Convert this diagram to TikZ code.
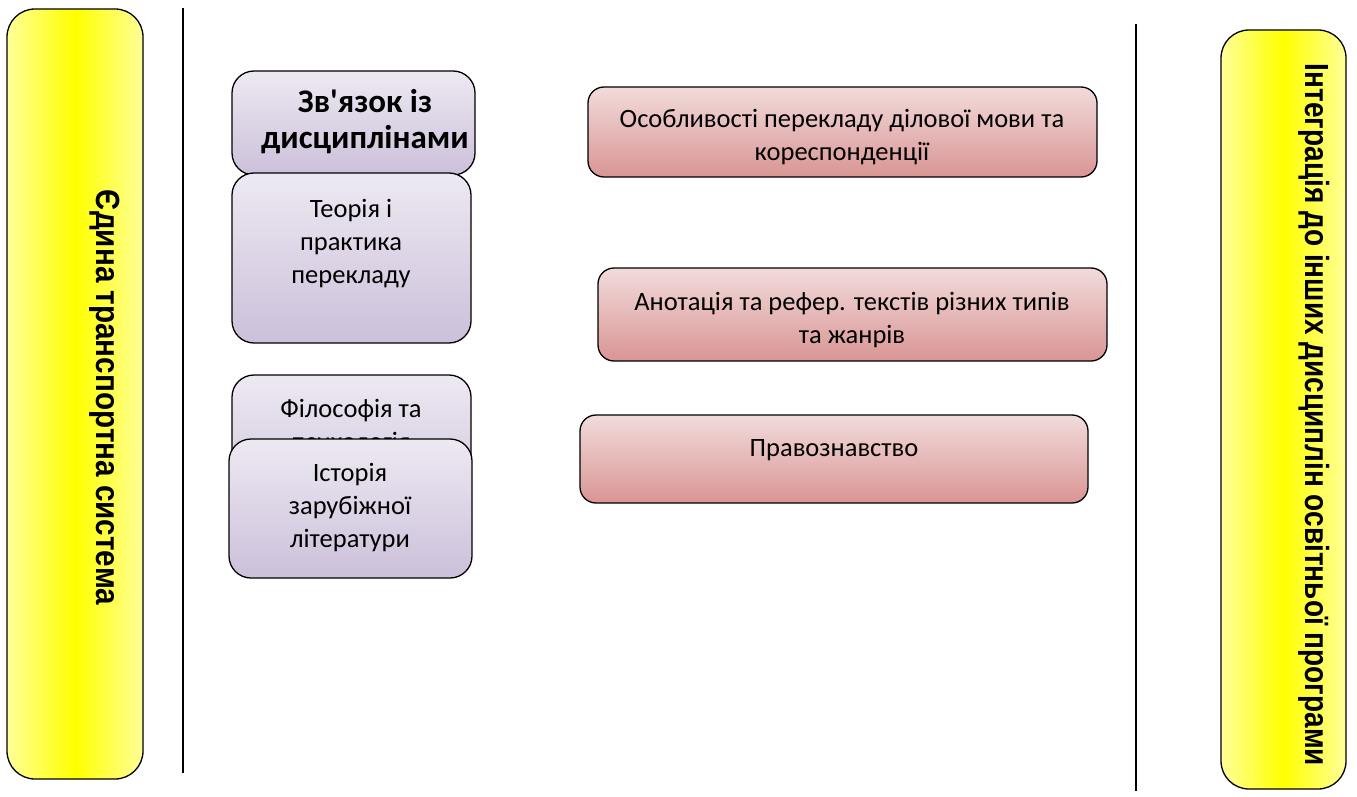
\documentclass[tikz,border=0pt]{standalone}
\usepackage{fontspec}
\setmainfont{Carlito}[Ligatures=TeXOff]
\newfontfamily\arialfam{Liberation Sans}
\usetikzlibrary{positioning}
\definecolor{ylight}{HTML}{FFFF99}
\definecolor{ymid}{HTML}{FFFF00}
\definecolor{lavtop}{HTML}{EDE9F2}
\definecolor{lavbot}{HTML}{CCC0DA}
\definecolor{redtop}{HTML}{F2DBDB}
\definecolor{redbot}{HTML}{D99594}
\tikzset{
  ybox/.style={draw=black, line width=1.3pt, rounded corners=28pt, left color=ylight, right color=ylight, middle color=ymid},
  lbox/.style={draw=black, line width=1.3pt, rounded corners=22pt, top color=lavtop, bottom color=lavbot},
  rbox/.style={draw=black, line width=1.3pt, rounded corners=16pt, top color=redtop, bottom color=redbot},
  sep/.style={line width=2.5pt, black},
  txt/.style={font=\fontsize{26.5}{33}\selectfont, align=center, anchor=north, inner sep=0pt},
  btxt/.style={font=\fontsize{33}{36}\selectfont\bfseries, align=center, anchor=north, inner sep=0pt},
  vtxt/.style={font=\arialfam\bfseries\fontsize{33.5}{33.5}\selectfont, rotate=-90, anchor=base, inner sep=0pt}
}
\begin{document}
\begin{tikzpicture}[x=1pt,y=-1pt]
\useasboundingbox (0,0) rectangle (1357,797);
% side bars
\draw[ybox] (7,9) rectangle (143,779);
\node[vtxt] (lt) at (96,397.5) {\scalebox{0.885}[1]{Єдина транспортна система}};
\draw[ybox] (1221,30) rectangle (1346,789);
\node[vtxt] (rt) at (1305,415) {\scalebox{0.836}[1]{Інтеграція до інших дисциплін освітньої програми}};
% separators
\coordinate (l1) at (183,8); \coordinate (l2) at (183,773);
\draw[sep] (l1) -- (l2);
\coordinate (r1) at (1136,24); \coordinate (r2) at (1136,791);
\draw[sep] (r1) -- (r2);
% lavender boxes
\draw[lbox] (232,71) rectangle (475,175);
\node[btxt] (zv) at (365,89) {Зв'язок із\\дисциплінами};
\draw[lbox] (232,173) rectangle (471,343);
\node[txt] (tp) at (351,199) {Теорія і\\практика\\перекладу};
\draw[lbox] (232,375) rectangle (471,520);
\node[txt] (fp) at (351,399) {Філософія та\\психологія};
\draw[lbox] (229,439) rectangle (472,578);
\node[txt] (iz) at (350,463) {Історія\\зарубіжної\\літератури};
% red boxes
\draw[rbox] (588,87) rectangle (1097,177);
\node[txt] (os) at (842,109) {Особливості перекладу ділової мови та\\кореспонденції};
\draw[rbox] (598,268) rectangle (1107,361);
\node[txt] (an) at (852,292) {Анотація та рефер. текстів різних типів\\та жанрів};
\draw[rbox] (580,415) rectangle (1088,503);
\node[txt] (pr) at (834,439) {Правознавство};
\end{tikzpicture}
\end{document}
